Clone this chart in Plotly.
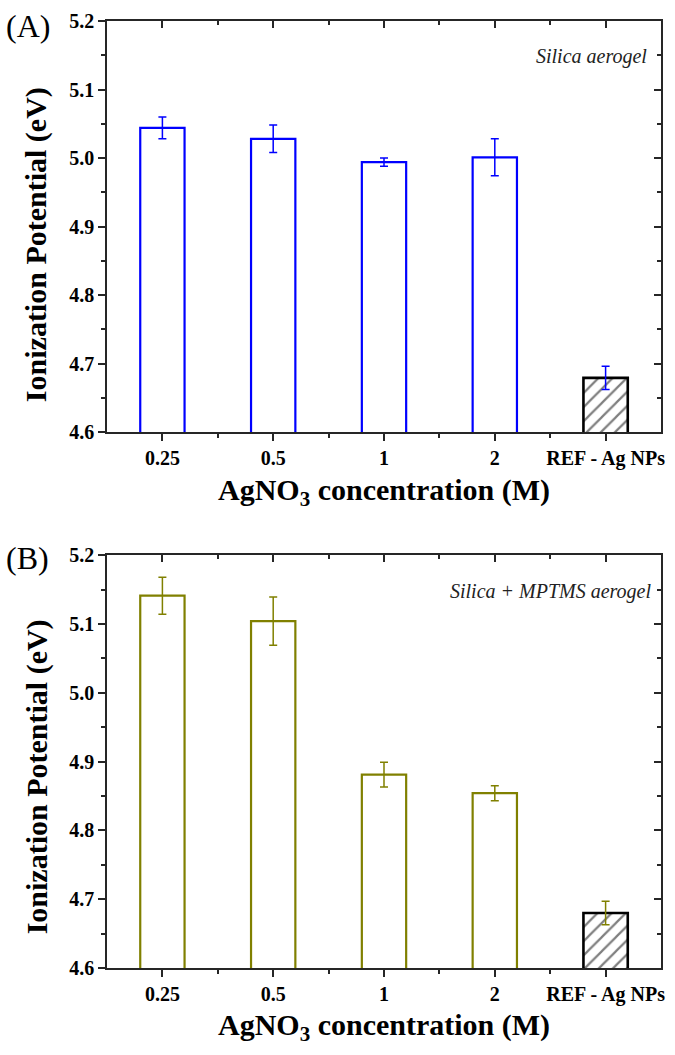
import plotly.graph_objects as go

categories = ["0.25", "0.5", "1", "2", "REF - Ag NPs"]
silica_ip = [5.044, 5.028, 4.994, 5.001, 4.679]
silica_err = [0.016, 0.020, 0.006, 0.027, 0.017]
mptms_ip = [5.141, 5.104, 4.881, 4.854, 4.680]
mptms_err = [0.027, 0.035, 0.018, 0.011, 0.017]
y_ticks = [4.6, 4.7, 4.8, 4.9, 5.0, 5.1, 5.2]

BLUE = "#0000FF"
OLIVE = "#808000"
AXC = "#262626"
FONT = "Liberation Serif"

xpos = list(range(len(categories)))
minor_x = [i + 0.5 for i in range(len(categories) - 1)]
n = len(categories)

fig = go.Figure()


def add_panel(vals, errs, color, xa, ya):
    line_colors = [color] * (n - 1) + ["black"]
    line_widths = [2.2] * (n - 1) + [2.6]
    shapes = [""] * (n - 1) + ["/"]
    fig.add_trace(go.Bar(
        x=xpos, y=vals, width=0.4, xaxis=xa, yaxis=ya,
        marker=dict(color="white",
                    line=dict(color=line_colors, width=line_widths),
                    pattern=dict(shape=shapes, fgcolor="black", bgcolor="white",
                                 size=10, solidity=0.22)),
        error_y=dict(type="data", array=errs, color=color, thickness=1.5, width=4),
        showlegend=False, hoverinfo="skip"))


add_panel(silica_ip, silica_err, BLUE, "x", "y")
add_panel(mptms_ip, mptms_err, OLIVE, "x2", "y2")

# invisible traces to create mirrored (top/right) axes with inward ticks
for xa, ya in [("x3", "y3"), ("x4", "y4")]:
    fig.add_trace(go.Scatter(x=[], y=[], xaxis=xa, yaxis=ya, showlegend=False,
                             hoverinfo="skip"))

tickfont = dict(family=FONT, size=20, color="black", weight="bold")


def xaxis_cfg(domain_anchor, side="bottom", overlay=None, inside=False):
    d = dict(range=[-0.5, n - 0.5], tickmode="array", tickvals=xpos,
             ticktext=categories, showline=True, linecolor=AXC, linewidth=1.6,
             ticks="inside" if inside else "outside", ticklen=7, tickwidth=1.5,
             tickcolor=AXC, tickfont=tickfont, showgrid=False, zeroline=False,
             anchor=domain_anchor, side=side, fixedrange=True,
             minor=dict(tickvals=minor_x, ticks="inside" if inside else "outside",
                        ticklen=4, tickwidth=1.5, tickcolor=AXC, showgrid=False))
    if overlay:
        d["overlaying"] = overlay
        d["showticklabels"] = False
    return d


def yaxis_cfg(domain, anchor, side="left", overlay=None, inside=False):
    d = dict(range=[4.6, 5.2], tickmode="array", tickvals=y_ticks,
             ticktext=[f"{v:.1f}" for v in y_ticks],
             showline=True, linecolor=AXC, linewidth=1.6,
             ticks="inside" if inside else "outside", ticklen=7, tickwidth=1.5,
             tickcolor=AXC, tickfont=tickfont, showgrid=False, zeroline=False,
             anchor=anchor, side=side, fixedrange=True,
             minor=dict(dtick=0.05, tick0=4.6, ticks="inside" if inside else "outside",
                        ticklen=4, tickwidth=1.5, tickcolor=AXC, showgrid=False))
    if overlay:
        d["overlaying"] = overlay
        d["showticklabels"] = False
    else:
        d["domain"] = domain
    return d


top_dom = [0.566, 1.0]
bot_dom = [0.0, 0.436]

fig.update_layout(
    width=675, height=1055,
    margin=dict(l=107, r=10, t=14, b=87),
    paper_bgcolor="white", plot_bgcolor="white",
    bargap=0.6,
    xaxis=xaxis_cfg("y"),
    yaxis=yaxis_cfg(top_dom, "x"),
    xaxis2=xaxis_cfg("y2"),
    yaxis2=yaxis_cfg(bot_dom, "x2"),
    xaxis3=xaxis_cfg("y", side="top", overlay="x", inside=True),
    yaxis3=yaxis_cfg(top_dom, "x", side="right", overlay="y", inside=True),
    xaxis4=xaxis_cfg("y2", side="top", overlay="x2", inside=True),
    yaxis4=yaxis_cfg(bot_dom, "x2", side="right", overlay="y2", inside=True),
)

title_font = dict(family=FONT, size=30, color="black", weight="bold")
ann = []
for ypos, lab in [(0.995, "(A)"), (0.433, "(B)")]:
    ann.append(dict(text=lab, x=-0.143, y=ypos, xref="paper", yref="paper",
                    showarrow=False, xanchor="center", yanchor="middle",
                    font=dict(family=FONT, size=32, color="black")))
for ypos in [0.764, 0.202]:
    ann.append(dict(text="Ionization Potential (eV)", x=-0.127, y=ypos,
                    xref="paper", yref="paper", showarrow=False, textangle=-90,
                    xanchor="center", yanchor="middle", font=title_font))
for ypos in [0.503, -0.062]:
    ann.append(dict(text="AgNO<sub>3</sub> concentration (M)", x=0.5, y=ypos,
                    xref="paper", yref="paper", showarrow=False,
                    xanchor="center", yanchor="middle", font=title_font))
ann.append(dict(text="<i>Silica aerogel</i>", x=0.978, y=0.962, xref="paper",
                yref="paper", showarrow=False, xanchor="right", yanchor="middle",
                font=dict(family=FONT, size=20, color="#222")))
ann.append(dict(text="<i>Silica + MPTMS aerogel</i>", x=0.986, y=0.398, xref="paper",
                yref="paper", showarrow=False, xanchor="right", yanchor="middle",
                font=dict(family=FONT, size=20, color="#222")))
fig.update_layout(annotations=ann)

fig.write_html("out.html", config={"displayModeBar": False},
               post_script="document.body.style.margin='0px';")
